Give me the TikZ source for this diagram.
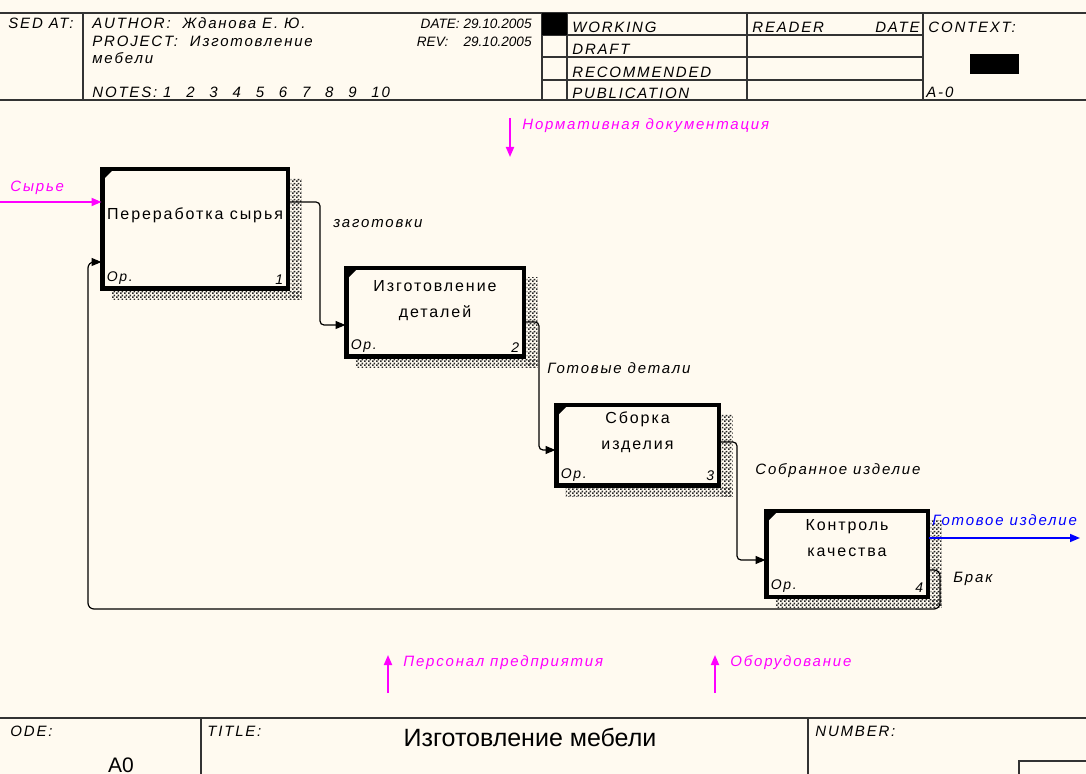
\documentclass[tikz,border=0pt]{standalone}
\usepackage{fontspec}
\setmainfont{Liberation Sans}
\newfontfamily\idefwide[LetterSpace=12]{Liberation Sans}
\usetikzlibrary{arrows.meta, positioning, calc, patterns.meta}
\definecolor{IdefPaper}{HTML}{FFFAF0}
\definecolor{IdefBlack}{HTML}{000000}
\definecolor{IdefFrame}{HTML}{333333}
\definecolor{IdefMagenta}{HTML}{FF00FF}
\definecolor{IdefBlue}{HTML}{0000FF}
\tikzdeclarepattern{
    name=idefhatch,
    type=uncolored,
    bottom left={(0pt,0pt)},
    top right={(2pt,2pt)},
    tile size={(2pt,2pt)},
    code={
        \fill (0pt,0pt) rectangle (1pt,1pt);
        \fill (1pt,1pt) rectangle (2pt,2pt);
    }
}
\tikzset{
    % Node styles
    funcbox/.style={
        rectangle,
        draw=IdefBlack,
        fill=IdefPaper,
        line width=1.5pt,
        inner sep=0pt
    },
    boxtext/.style={
        align=center,
        inner sep=0pt,
        font=\idefwide\fontsize{8}{13}\selectfont
    },
    cornertext/.style={
        inner sep=2.5pt,
        font=\idefwide\itshape\fontsize{7}{8}\selectfont
    },
    arrowlabel/.style={
        anchor=base west,
        inner sep=0pt,
        font=\idefwide\itshape\fontsize{7.5}{9}\selectfont
    },
    headtext/.style={
        anchor=base west,
        inner sep=0pt,
        font=\idefwide\itshape\fontsize{7.5}{9}\selectfont
    },
    datetext/.style={
        anchor=base east,
        inner sep=0pt,
        font=\itshape\fontsize{6.8}{8}\selectfont
    },
    shadowfill/.style={
        pattern={idefhatch},
        pattern color=IdefBlack!85
    },
    frameline/.style={
        draw=IdefFrame,
        line width=0.8pt
    },
    % Arrow styles
    flowarrow/.style={
        -{Triangle[length=5pt,width=4pt]},
        line width=0.6pt,
        rounded corners=2pt,
        IdefBlack
    },
    tunnelarrow/.style={
        -{Triangle[length=5pt,width=4pt]},
        line width=0.9pt,
        IdefMagenta
    }
}
\begin{document}
\begin{tikzpicture}[x=0.5pt, y=-0.5pt]
    \fill[IdefPaper] (0,0) rectangle (1086,774);
    \useasboundingbox (0,0) rectangle (1086,774);
    \clip (0,0) rectangle (1086,774);

    % Header frame
    \draw[frameline] (0,13) -- (1086,13);
    \draw[frameline] (0,100) -- (1086,100);
    \foreach \x in {83,542,567,747,923}
        \draw[frameline] (\x,13) -- (\x,100);
    \foreach \y in {35,57,80}
        \draw[frameline] (542,\y) -- (923,\y);
    \fill[IdefBlack] (542,13) rectangle (567,35);
    \fill[IdefBlack] (970,54) rectangle (1019,74);

    % Header texts
    \node[headtext] (usedat) at (8,29) {SED AT:};
    \node[headtext] (author) at (92,29) {AUTHOR:\ \ Жданова Е. Ю.};
    \node[datetext] (date) at (532,29) {DATE: 29.10.2005};
    \node[headtext] (project) at (92,47) {PROJECT:\ \ Изготовление};
    \node[datetext] (rev) at (532,47) {REV:\ \ \ \ 29.10.2005};
    \node[headtext] (projcont) at (92,64) {мебели};
    \node[headtext] (notes) at (92,98) {NOTES:\ 1\hspace{7.4pt}2\hspace{7.4pt}3\hspace{7.4pt}4\hspace{7.4pt}5\hspace{7.4pt}6\hspace{7.4pt}7\hspace{7.4pt}8\hspace{7.4pt}9\hspace{7.4pt}10};
    \node[headtext] (working) at (572,33) {WORKING};
    \node[headtext] (draft) at (572,55) {DRAFT};
    \node[headtext] (recomm) at (572,78) {RECOMMENDED};
    \node[headtext] (public) at (572,99) {PUBLICATION};
    \node[headtext] (reader) at (752,33) {READER};
    \node[headtext, anchor=base east] (rdate) at (920,33) {DATE};
    \node[headtext] (context) at (928,33) {CONTEXT:};
    \node[headtext] (ctxnum) at (926,98) {A-0};

    % Function boxes
    \node[funcbox, minimum width=92pt, minimum height=59pt] (p1) at (195,229) {};
    \node[funcbox, minimum width=88pt, minimum height=43.5pt] (p2) at (435,312.5) {};
    \node[funcbox, minimum width=80.5pt, minimum height=39.5pt] (p3) at (637.5,445.5) {};
    \node[funcbox, minimum width=80pt, minimum height=42pt] (p4) at (847,554) {};

    % Shadows and corner marks
    \foreach \b in {p1,p2,p3,p4} {
        \fill[shadowfill] ($(\b.north east)+(2,10)$) rectangle ($(\b.south east)+(13,10)$);
        \fill[shadowfill] ($(\b.south west)+(10,2)$) rectangle ($(\b.south east)+(13,10)$);
        \draw[line width=1.5pt] (\b.north west) rectangle (\b.south east);
        \fill[IdefBlack] (\b.north west) -- ++(13,0) -- ++(-13,13) -- cycle;
    }

    % Box texts
    \node[boxtext] (p1text) at ($(p1.north)+(0,47)$) {Переработка сырья};
    \node[boxtext] (p2text) at ($(p2.north)+(0,33)$) {Изготовление\\деталей};
    \node[boxtext] (p3text) at ($(p3.north)+(0,28)$) {Сборка\\изделия};
    \node[boxtext] (p4text) at ($(p4.north)+(0,28)$) {Контроль\\качества};
    \foreach \b/\n in {p1/1,p2/2,p3/3,p4/4} {
        \node[cornertext, anchor=south west] (\b op) at (\b.south west) {Op.};
        \node[cornertext, anchor=south east] (\b num) at (\b.south east) {\n};
    }

    % Boundary arrows
    \coordinate (rawin) at (0,202);
    \draw[tunnelarrow] (rawin) -- (rawin -| p1.west);
    \coordinate (ctrlin) at (510,118);
    \coordinate (ctrlend) at (510,157);
    \draw[tunnelarrow] (ctrlin) -- (ctrlend);
    \coordinate (staffin) at (388,693);
    \coordinate (staffend) at (388,655);
    \draw[tunnelarrow] (staffin) -- (staffend);
    \coordinate (equipin) at (715,693);
    \coordinate (equipend) at (715,655);
    \draw[tunnelarrow] (equipin) -- (equipend);
    \coordinate (prodout) at (1080,538);
    \draw[flowarrow, IdefBlue, line width=0.8pt] ($(p4.east)+(0,-16)$) -- (prodout);

    % Flows between boxes
    \draw[flowarrow] ($(p1.east)+(0,-27)$) -- (320,202) -- (320,325) -- ($(p2.west)+(0,12.5)$);
    \draw[flowarrow] ($(p2.east)+(0,9.5)$) -- (539,322) -- (539,450) -- ($(p3.west)+(0,4.5)$);
    \draw[flowarrow] ($(p3.east)+(0,-3.5)$) -- (737,442) -- (737,560) -- ($(p4.west)+(0,6)$);
    \draw[flowarrow, rounded corners=3pt] ($(p4.east)+(0,16)$) -- (940,570) -- (940,609) -- (88,609) -- (88,262) -- ($(p1.west)+(0,33)$);

    % Arrow labels
    \node[arrowlabel, IdefMagenta] (rawlbl) at (10,192) {Сырье};
    \node[arrowlabel, IdefMagenta] (ctrllbl) at (522,130) {Нормативная документация};
    \node[arrowlabel] (f1lbl) at (333,228) {заготовки};
    \node[arrowlabel] (f2lbl) at (547,374) {Готовые детали};
    \node[arrowlabel] (f3lbl) at (755,475) {Собранное изделие};
    \node[arrowlabel, IdefBlue] (prodlbl) at (932,525) {Готовое изделие};
    \node[arrowlabel] (rejlbl) at (953,582) {Брак};
    \node[arrowlabel, IdefMagenta] (stafflbl) at (403,666) {Персонал предприятия};
    \node[arrowlabel, IdefMagenta] (equiplbl) at (730,666) {Оборудование};

    % Footer frame
    \draw[frameline] (0,718) -- (1086,718);
    \draw[frameline] (201,718) -- (201,780);
    \draw[frameline] (808,718) -- (808,780);
    \draw[frameline] (1019,780) -- (1019,761) -- (1090,761);
    \node[headtext] (nodelbl) at (10,736) {ODE:};
    \node[headtext] (titlelbl) at (207,736) {TITLE:};
    \node[headtext] (numlbl) at (815,736) {NUMBER:};
    \node[anchor=base, inner sep=0pt, font=\fontsize{12.5}{14}\selectfont] (title) at (530,746) {Изготовление мебели};
    \node[anchor=base, inner sep=0pt, font=\fontsize{10.5}{12}\selectfont] (nodenum) at (121,772) {A0};
\end{tikzpicture}
\end{document}
